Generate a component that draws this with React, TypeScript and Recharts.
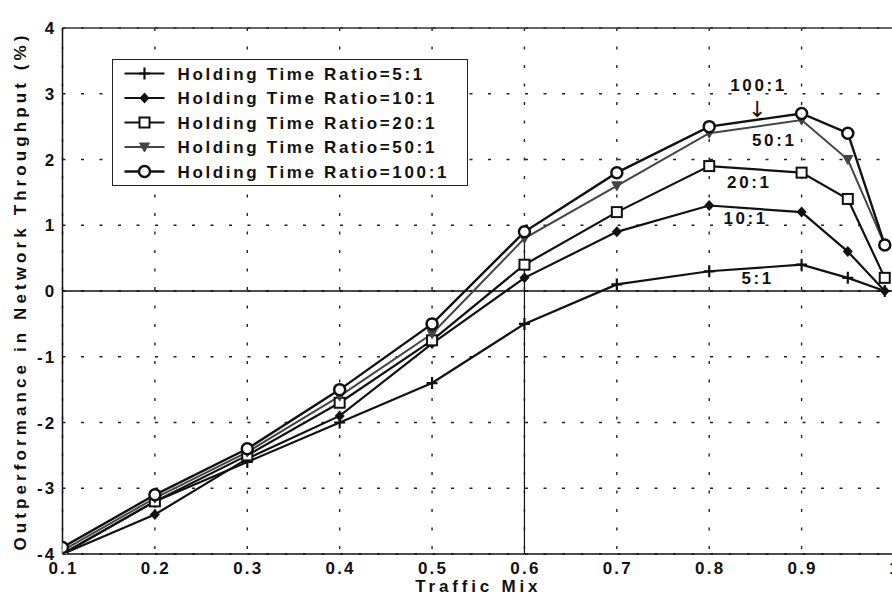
import {
	CartesianGrid,
	Label,
	Legend,
	Line,
	LineChart,
	ReferenceDot,
	ReferenceLine,
	XAxis,
	YAxis,
} from "recharts";

// traffic mix values where the curves were sampled
const trafficMix = [0.1, 0.2, 0.3, 0.4, 0.5, 0.6, 0.7, 0.8, 0.9, 0.95, 0.99];

// outperformance in network throughput (%), one list per holding time ratio
const ratio5 = [-4.0, -3.2, -2.6, -2.0, -1.4, -0.5, 0.1, 0.3, 0.4, 0.2, 0.0];
const ratio10 = [-4.0, -3.4, -2.55, -1.9, -0.8, 0.2, 0.9, 1.3, 1.2, 0.6, 0.0];
const ratio20 = [-4.0, -3.2, -2.5, -1.7, -0.75, 0.4, 1.2, 1.9, 1.8, 1.4, 0.2];
const ratio50 = [-3.95, -3.15, -2.45, -1.6, -0.65, 0.8, 1.6, 2.4, 2.6, 2.0, 0.7];
const ratio100 = [-3.9, -3.1, -2.4, -1.5, -0.5, 0.9, 1.8, 2.5, 2.7, 2.4, 0.7];

const xTicks = [0.1, 0.2, 0.3, 0.4, 0.5, 0.6, 0.7, 0.8, 0.9, 1.0];
const yTicks = [-4, -3, -2, -1, 0, 1, 2, 3, 4];

const seriesNames = [
	"Holding Time Ratio=5:1",
	"Holding Time Ratio=10:1",
	"Holding Time Ratio=20:1",
	"Holding Time Ratio=50:1",
	"Holding Time Ratio=100:1",
];

// in-plot curve annotations (data units)
const curveLabels = ["100:1", "↓", "50:1", "20:1", "10:1", "5:1"];
const curveLabelX = [0.852, 0.852, 0.869, 0.842, 0.838, 0.851];
const curveLabelY = [3.13, 2.76, 2.3, 1.66, 1.11, 0.2];

const data = trafficMix.map((m, i) => ({
	mix: m,
	r5: ratio5[i],
	r10: ratio10[i],
	r20: ratio20[i],
	r50: ratio50[i],
	r100: ratio100[i],
}));

type Shape = "plus" | "diamond" | "square" | "triangle" | "circle";

const series: { key: string; shape: Shape; color: string; width: number }[] = [
	{ key: "r5", shape: "plus", color: "#111", width: 2.2 },
	{ key: "r10", shape: "diamond", color: "#111", width: 2.2 },
	{ key: "r20", shape: "square", color: "#111", width: 2.2 },
	{ key: "r50", shape: "triangle", color: "#444", width: 2 },
	{ key: "r100", shape: "circle", color: "#111", width: 2.4 },
];

const FONT = "'Liberation Sans', Arial, Helvetica, sans-serif";
const INK = "#111";

function Marker({ shape, cx, cy, color }: { shape: Shape; cx: number; cy: number; color: string }) {
	switch (shape) {
		case "plus":
			return (
				<path
					d={`M${cx - 5.5},${cy}H${cx + 5.5}M${cx},${cy - 6}V${cy + 6}`}
					stroke={color}
					strokeWidth={2.2}
					fill="none"
				/>
			);
		case "diamond":
			return (
				<path
					d={`M${cx},${cy - 5.5}L${cx + 5},${cy}L${cx},${cy + 5.5}L${cx - 5},${cy}Z`}
					fill={color}
				/>
			);
		case "square":
			return (
				<rect
					x={cx - 5}
					y={cy - 5}
					width={10}
					height={10}
					fill="#fff"
					stroke={color}
					strokeWidth={2}
				/>
			);
		case "triangle":
			return (
				<path
					d={`M${cx - 5},${cy - 4}L${cx + 5},${cy - 4}L${cx},${cy + 5}Z`}
					fill={color}
					stroke={color}
					strokeWidth={1}
				/>
			);
		default:
			return <circle cx={cx} cy={cy} r={5.5} fill="#fff" stroke={color} strokeWidth={2.5} />;
	}
}

const renderDot = (shape: Shape, color: string) => (p: any) => (
	<g key={`${shape}-${p.index}`}>
		{p.cx != null && p.cy != null && <Marker shape={shape} cx={p.cx} cy={p.cy} color={color} />}
	</g>
);

const textStyle = {
	fontFamily: FONT,
	fontWeight: 700,
	fontSize: 17,
	fill: INK,
};

function XTick({ x, y, payload }: any) {
	const v = Number(payload.value);
	return (
		<text x={x + 1} y={y + 20} textAnchor="middle" style={{ ...textStyle, letterSpacing: 2.2 }}>
			{v === 1 ? "1" : v.toFixed(1)}
		</text>
	);
}

function YTick({ x, y, payload }: any) {
	return (
		<text x={x - 6} y={y + 6} textAnchor="end" style={{ ...textStyle, letterSpacing: 2.2 }}>
			{String(payload.value)}
		</text>
	);
}

function LegendBox() {
	return (
		<div
			style={{
				width: 356,
				height: 127,
				border: "1.5px solid #222",
				boxSizing: "border-box",
				background: "#fff",
			}}
		>
			<svg width={353} height={124} style={{ display: "block" }}>
				{series.map((s, i) => {
					const cy = 13.5 + i * 24.5;
					return (
						<g key={s.key}>
							<line x1={11.5} x2={51.5} y1={cy} y2={cy} stroke={s.color} strokeWidth={s.width} />
							<Marker shape={s.shape} cx={31.5} cy={cy} color={s.color} />
							<text x={64.5} y={cy + 6} style={{ ...textStyle, letterSpacing: 2.65 }}>
								{seriesNames[i]}
							</text>
						</g>
					);
				})}
			</svg>
		</div>
	);
}

export default function App() {
	return (
		<div
			style={{
				position: "absolute",
				left: 0,
				top: 0,
				width: 892,
				height: 602,
				overflow: "hidden",
				background: "#fff",
			}}
		>
			<LineChart
				width={900}
				height={602}
				data={data}
				margin={{ top: 28, right: 6, left: 0, bottom: 0 }}
			>
				<CartesianGrid
					stroke="#222"
					strokeWidth={1.4}
					strokeDasharray="3 15.5"
					horizontalValues={yTicks}
					verticalValues={xTicks}
				/>
				<XAxis
					dataKey="mix"
					type="number"
					domain={[0.1, 1.0]}
					ticks={xTicks}
					interval={0}
					height={48}
					tickSize={0}
					tickMargin={0}
					tickLine={false}
					axisLine={{ stroke: INK, strokeWidth: 1.5 }}
					tick={<XTick />}
					allowDataOverflow
				>
					<Label
						content={(p: any) => {
							const vb = p.viewBox || {};
							return (
								<text
									x={(vb.x ?? 62) + (vb.width ?? 832) / 2}
									y={(vb.y ?? 554) + 38}
									textAnchor="middle"
									style={{ ...textStyle, letterSpacing: 3.8 }}
								>
									Traffic Mix
								</text>
							);
						}}
					/>
				</XAxis>
				<YAxis
					type="number"
					domain={[-4, 4]}
					ticks={yTicks}
					interval={0}
					width={62.5}
					tickSize={0}
					tickMargin={0}
					tickLine={false}
					axisLine={{ stroke: INK, strokeWidth: 1.5 }}
					tick={<YTick />}
					allowDataOverflow
				>
					<Label
						content={(p: any) => {
							const vb = p.viewBox || {};
							const cy = (vb.y ?? 28) + (vb.height ?? 526) / 2;
							return (
								<text
									x={26}
									y={cy}
									textAnchor="middle"
									transform={`rotate(-90 26 ${cy})`}
									style={{ ...textStyle, letterSpacing: 4.1 }}
								>
									Outperformance in Network Throughput (%)
								</text>
							);
						}}
					/>
				</YAxis>
				<ReferenceLine y={4} stroke="#333" strokeWidth={1.4} />
				<ReferenceLine y={0} stroke={INK} strokeWidth={1.5} />
				<ReferenceLine
					segment={[
						{ x: 0.6, y: -4 },
						{ x: 0.6, y: 0.9 },
					]}
					stroke={INK}
					strokeWidth={1.2}
				/>
				<Legend
					layout="horizontal"
					verticalAlign="middle"
					align="center"
					content={() => <LegendBox />}
					wrapperStyle={{ left: 112, top: 59, width: 356, height: 127 }}
				/>
				{series.map((s, i) => (
					<Line
						key={s.key}
						type="linear"
						dataKey={s.key}
						name={seriesNames[i]}
						stroke={s.color}
						strokeWidth={s.width}
						dot={renderDot(s.shape, s.color)}
						activeDot={false}
						isAnimationActive={false}
					/>
				))}
				{curveLabels.map((t, i) => (
					<ReferenceDot
						key={`lbl-${i}`}
						x={curveLabelX[i]}
						y={curveLabelY[i]}
						r={0}
						fill="none"
						stroke="none"
						label={{
							content: (p: any) => {
								const vb = p.viewBox || {};
								const cx = (vb.x ?? 0) + (vb.width ?? 0) / 2;
								const cy = (vb.y ?? 0) + (vb.height ?? 0) / 2;
								const arrow = t === "↓";
								return (
									<text
										x={arrow ? cx : cx + 1.3}
										y={arrow ? cy + 7 : cy + 6}
										textAnchor="middle"
										style={
											arrow
												? { fontFamily: "'DejaVu Sans', sans-serif", fontSize: 22, fill: INK }
												: { ...textStyle, letterSpacing: 2.6 }
										}
									>
										{t}
									</text>
								);
							},
						}}
					/>
				))}
			</LineChart>
		</div>
	);
}
